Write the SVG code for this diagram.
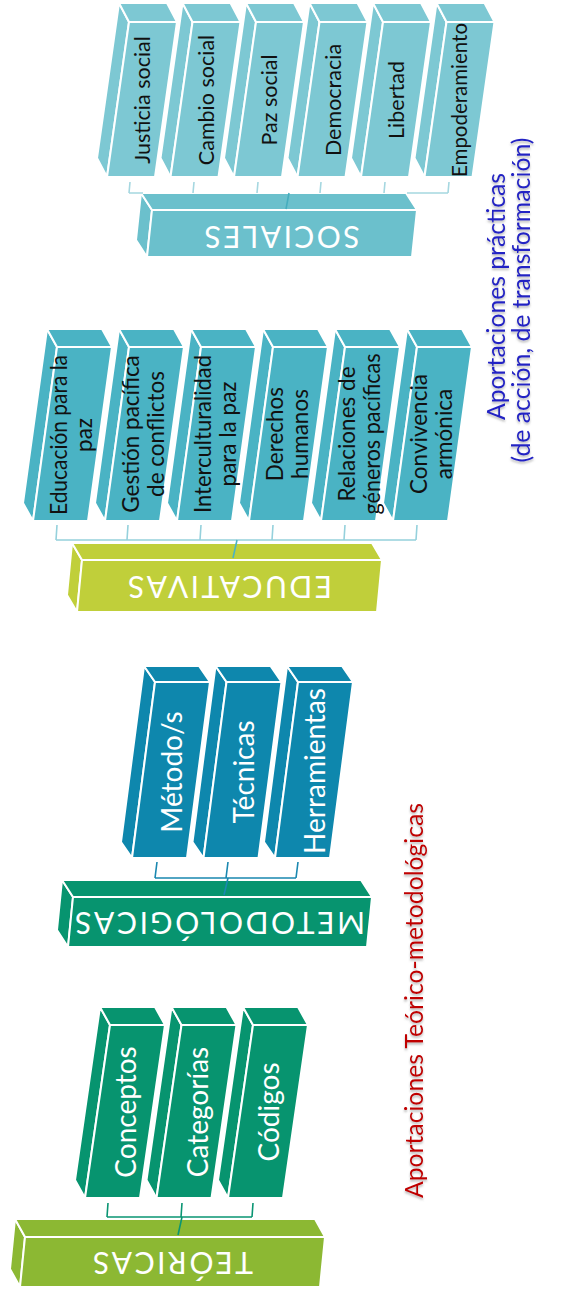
<svg xmlns="http://www.w3.org/2000/svg" xmlns:xlink="http://www.w3.org/1999/xlink" width="566" height="1291" viewBox="0 0 566 1291">
<style>
  text { font-family: Lato, "Open Sans", "DejaVu Sans", sans-serif; }
  .blk polygon { stroke: #ffffff; stroke-width: 2; stroke-linejoin: round; }
  .soc { fill: #7DC8D3; }
  .socb { fill: #6BC0CC; }
  .edu { fill: #4AB3C4; }
  .edub { fill: #C0CF3A; }
  .met { fill: #0E87AD; }
  .metb { fill: #07946F; }
  .teo { fill: #07946F; }
  .teob { fill: #8CB833; }
  .tdark { fill: #111111; text-anchor: middle; dominant-baseline: central; }
  .tlight { fill: #ffffff; text-anchor: middle; dominant-baseline: central; }
  .base { fill: #ffffff; font-size: 30px; text-anchor: middle; }
  .conn { fill: none; stroke-width: 1.6; }
  .ann { font-size: 25px; text-anchor: middle; }
</style>
<defs>
  <filter id="sh" x="-5%" y="-50%" width="110%" height="200%">
    <feDropShadow dx="0" dy="2" stdDeviation="1.2" flood-color="#777777" flood-opacity="0.5"/>
  </filter>
  <g id="bSoc" class="blk">
    <polygon points="12,-174 22,-155 0,0 -10,-19"/>
    <polygon points="12,-174 60,-174 70,-155 22,-155"/>
    <polygon points="22,-155 70,-155 48,0 0,0"/>
  </g>
  <g id="bEdu" class="blk">
    <polygon points="14,-192 24,-174 0,0 -10,-18"/>
    <polygon points="14,-192 69,-192 79,-174 24,-174"/>
    <polygon points="24,-174 79,-174 55,0 0,0"/>
  </g>
  <g id="bMet" class="blk">
    <polygon points="12,-192 23,-176 0,0 -11,-16"/>
    <polygon points="12,-192 67,-192 78,-176 23,-176"/>
    <polygon points="23,-176 78,-176 55,0 0,0"/>
  </g>
  <g id="bTeo" class="blk">
    <polygon points="15,-191 25,-173 0,0 -10,-18"/>
    <polygon points="15,-191 70,-191 80,-173 25,-173"/>
    <polygon points="25,-173 80,-173 55,0 0,0"/>
  </g>
</defs>

<!-- SOCIALES group -->
<g id="sociales" class="blk socb">
  <polygon points="141,193 152,210 147,257 136,240"/>
  <polygon points="141,193 406,193 417,210 152,210"/>
  <polygon points="152,210 417,210 412,257 147,257"/>
  <text class="base" transform="translate(282,237) rotate(180)" y="10.8" textLength="155" lengthAdjust="spacing">SOCIALES</text>
</g>
<g id="justicia-social" class="soc"><use href="#bSoc" transform="translate(107,177)"/><text class="tdark" font-size="21.5" transform="translate(142,100) rotate(-90)">Justicia social</text></g>
<g id="cambio-social" class="soc"><use href="#bSoc" transform="translate(170.5,177)"/><text class="tdark" font-size="21.5" transform="translate(205.5,100) rotate(-90)">Cambio social</text></g>
<g id="paz-social" class="soc"><use href="#bSoc" transform="translate(234,177)"/><text class="tdark" font-size="21.5" transform="translate(269,100) rotate(-90)">Paz social</text></g>
<g id="democracia" class="soc"><use href="#bSoc" transform="translate(297.5,177)"/><text class="tdark" font-size="21.5" transform="translate(332.5,100) rotate(-90)">Democracia</text></g>
<g id="libertad" class="soc"><use href="#bSoc" transform="translate(361,177)"/><text class="tdark" font-size="21.5" transform="translate(396,100) rotate(-90)">Libertad</text></g>
<g id="empoderamiento" class="soc"><use href="#bSoc" transform="translate(424.5,177)"/><text class="tdark" font-size="21" transform="translate(458,100) rotate(-90)" textLength="154" lengthAdjust="spacingAndGlyphs">Empoderamiento</text></g>

<!-- EDUCATIVAS group -->
<g id="educativas" class="blk edub">
  <polygon points="72,543 82,560 77,612 67,595"/>
  <polygon points="72,543 372,543 382,560 82,560"/>
  <polygon points="82,560 382,560 377,612 77,612"/>
  <text class="base" transform="translate(230,587) rotate(180)" y="10.8" textLength="204" lengthAdjust="spacing">EDUCATIVAS</text>
</g>
<g id="educacion-paz" class="edu"><use href="#bEdu" transform="translate(33,521)"/><text class="tdark" font-size="22.5" transform="translate(70,435) rotate(-90)"><tspan x="0" y="-12" textLength="160" lengthAdjust="spacingAndGlyphs">Educación para la</tspan><tspan x="0" y="13">paz</tspan></text></g>
<g id="gestion-pacifica" class="edu"><use href="#bEdu" transform="translate(105,521)"/><text class="tdark" font-size="22.5" transform="translate(142,434) rotate(-90)"><tspan x="0" y="-12">Gestión pacífica</tspan><tspan x="0" y="13">de conflictos</tspan></text></g>
<g id="interculturalidad" class="edu"><use href="#bEdu" transform="translate(177,521)"/><text class="tdark" font-size="22.5" transform="translate(214,434) rotate(-90)"><tspan x="0" y="-12" textLength="158" lengthAdjust="spacingAndGlyphs">Interculturalidad</tspan><tspan x="0" y="13">para la paz</tspan></text></g>
<g id="derechos-humanos" class="edu"><use href="#bEdu" transform="translate(249,521)"/><text class="tdark" font-size="22.5" transform="translate(286,434) rotate(-90)"><tspan x="0" y="-12">Derechos</tspan><tspan x="0" y="13">humanos</tspan></text></g>
<g id="relaciones-generos" class="edu"><use href="#bEdu" transform="translate(321,521)"/><text class="tdark" font-size="22.5" transform="translate(358,434) rotate(-90)"><tspan x="0" y="-12">Relaciones de</tspan><tspan x="0" y="13" textLength="161" lengthAdjust="spacingAndGlyphs">géneros pacíficas</tspan></text></g>
<g id="convivencia" class="edu"><use href="#bEdu" transform="translate(393,521)"/><text class="tdark" font-size="22.5" transform="translate(430,434) rotate(-90)"><tspan x="0" y="-12">Convivencia</tspan><tspan x="0" y="13">armónica</tspan></text></g>

<!-- METODOLÓGICAS group -->
<g id="metodologicas" class="blk metb">
  <polygon points="62,880 73,897 68,947 57,930"/>
  <polygon points="62,880 361,880 372,897 73,897"/>
  <polygon points="73,897 372,897 367,947 68,947"/>
  <text class="base" transform="translate(220,923) rotate(180)" y="10.8" textLength="290" lengthAdjust="spacing">METODOLÓGICAS</text>
</g>
<g id="metodos" class="met"><use href="#bMet" transform="translate(132,858)"/><text class="tlight" font-size="28" transform="translate(171,772) rotate(-90)">Método/s</text></g>
<g id="tecnicas" class="met"><use href="#bMet" transform="translate(203.5,858)"/><text class="tlight" font-size="28" transform="translate(242.5,772) rotate(-90)">Técnicas</text></g>
<g id="herramientas" class="met"><use href="#bMet" transform="translate(275,858)"/><text class="tlight" font-size="28" transform="translate(314,771) rotate(-90)">Herramientas</text></g>

<!-- TEÓRICAS group -->
<g id="teoricas" class="blk teob">
  <polygon points="15,1219 25,1237 20,1287 10,1269"/>
  <polygon points="15,1219 315,1219 325,1237 25,1237"/>
  <polygon points="25,1237 325,1237 320,1287 20,1287"/>
  <text class="base" transform="translate(173,1262.5) rotate(180)" y="10.8" textLength="160" lengthAdjust="spacing">TEÓRICAS</text>
</g>
<g id="conceptos" class="teo"><use href="#bTeo" transform="translate(85,1198)"/><text class="tlight" font-size="28" transform="translate(125,1112) rotate(-90)">Conceptos</text></g>
<g id="categorias" class="teo"><use href="#bTeo" transform="translate(156.5,1198)"/><text class="tlight" font-size="28" transform="translate(196.5,1112) rotate(-90)">Categorías</text></g>
<g id="codigos" class="teo"><use href="#bTeo" transform="translate(228,1198)"/><text class="tlight" font-size="28" transform="translate(268,1112) rotate(-90)">Códigos</text></g>

<!-- annotations -->
<g id="aportaciones-practicas" filter="url(#sh)">
  <text class="ann" fill="#2424C4" transform="translate(505,296.5) rotate(-90)" textLength="247" lengthAdjust="spacingAndGlyphs">Aportaciones prácticas</text>
  <text class="ann" fill="#2424C4" transform="translate(530,300) rotate(-90)" textLength="325" lengthAdjust="spacingAndGlyphs">(de acción, de transformación)</text>
</g>
<g id="aportaciones-teorico" filter="url(#sh)">
  <text class="ann" fill="#C00000" transform="translate(423,1000.5) rotate(-90)" textLength="395" lengthAdjust="spacingAndGlyphs">Aportaciones Teórico-metodológicas</text>
</g>

<!-- connectors -->
<g id="connectors" class="conn">
  <path stroke="#A5D7E0" d="M130,182 L129,193 M194,182 L193,193 M258,182 L257,193 M321,182 L320,193 M385,182 L384,193 M449,182 L448,193 M129,193 L143,193 M407,193 L448,193"/>
  <path stroke="#45ADBE" d="M289,193 L286,209"/>
  <path stroke="#95D1DC" d="M57,525 L56,540 M128,525 L127,540 M201,525 L200,540 M273,525 L272,540 M345,525 L344,540 M417,525 L416,540 M56,540 L416,540"/>
  <path stroke="#4AB3C4" d="M237,540 L233,558"/>
  <path stroke="#1A88B0" d="M157,862 L155,878 M228,862 L226,878 M298,862 L296,878 M155,878 L296,878 M228,878 L224,895"/>
  <path stroke="#0A9573" d="M108,1203 L107,1217 M182,1203 L181,1217 M253,1203 L252,1217 M107,1217 L252,1217 M182,1217 L178,1235"/>
</g>
</svg>
